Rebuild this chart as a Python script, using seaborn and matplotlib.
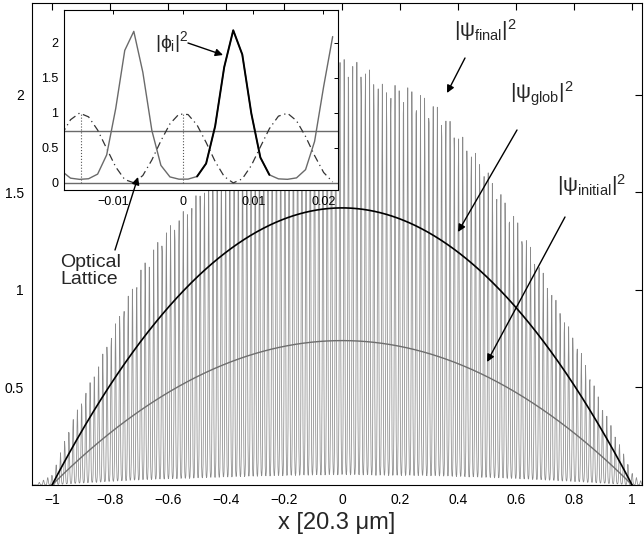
import numpy as np
import pandas as pd
import matplotlib
matplotlib.use("Agg")
import matplotlib.pyplot as plt
import seaborn as sns

# ---- values ----
lattice_period = 0.0146          # spacing of lattice sites (x units)
sample_step = 0.00129            # grid spacing of the simulation samples
site_width = 0.0019              # gaussian width of one site
site_floor = 0.023               # relative density between sites
glob_peak = 1.42                 # |psi_glob|^2 at centre
initial_peak = 0.74              # |psi_initial|^2 at centre
cloud_radius = 1.0               # Thomas-Fermi radius
# envelope of |psi_final|^2 (peak heights of the sites)
env_x = [-1.06, -1.0, -0.93, -0.845, -0.766, -0.686, -0.617, -0.524, -0.4, -0.3,
         -0.2, -0.1, 0.0, 0.072, 0.121, 0.141, 0.19, 0.234, 0.279, 0.338, 0.407,
         0.476, 0.545, 0.614, 0.683, 0.752, 0.821, 0.89, 0.959, 1.003, 1.05]
env_h = [0.0, 0.05, 0.33, 0.60, 0.88, 1.13, 1.29, 1.44, 1.70, 1.88,
         2.02, 2.12, 2.19, 2.16, 2.09, 2.05, 2.05, 2.04, 2.00, 1.93, 1.80,
         1.67, 1.50, 1.33, 1.12, 0.90, 0.69, 0.43, 0.20, 0.05, 0.0]
main_xticks = [-1, -0.8, -0.6, -0.4, -0.2, 0, 0.2, 0.4, 0.6, 0.8, 1]
main_xticklabels = ["\u22121", "\u22120.8", "\u22120.6", "\u22120.4", "\u22120.2", "0",
                    "0.2", "0.4", "0.6", "0.8", "1"]
main_yticks = [0.5, 1, 1.5, 2]
main_yticklabels = ["0.5", "1", "1.5", "2"]
inset_xticks = [-0.01, 0, 0.01, 0.02]
inset_xticklabels = ["\u22120.01", "0", "0.01", "0.02"]
inset_yticks = [0, 0.5, 1, 1.5, 2]
inset_yticklabels = ["0", "0.5", "1", "1.5", "2"]

sns.set_theme(style="white")
plt.rcParams["font.family"] = ["Liberation Sans", "DejaVu Sans"]
plt.rcParams["mathtext.fontset"] = "custom"
plt.rcParams["mathtext.rm"] = "Liberation Sans"
plt.rcParams["mathtext.it"] = "Liberation Sans"
plt.rcParams["mathtext.sf"] = "Liberation Sans"
plt.rcParams["mathtext.bf"] = "Liberation Sans:bold"

# ---- build curves ----
x = np.arange(-1.07, 1.04, sample_step)
site_idx = np.floor(x / lattice_period)
site_c = (site_idx + 0.5) * lattice_period
d = x - site_c
site_h = np.interp(site_c, env_x, env_h)
shape = site_floor + (1 - site_floor) * np.exp(-d**2 / (2 * site_width**2))
final = site_h * shape

xs = np.linspace(-cloud_radius, cloud_radius, 801)
glob = glob_peak * (1 - (xs / cloud_radius) ** 2)
init = initial_peak * (1 - (xs / cloud_radius) ** 2)

df_final = pd.DataFrame({"x": x, "y": final})
df_glob = pd.DataFrame({"x": xs, "y": glob})
df_init = pd.DataFrame({"x": xs, "y": init})

fig = plt.figure(figsize=(6.44, 5.44), dpi=100)
ax = fig.add_axes([32/644, 1-485/544, 610/644, 482/544])

sns.lineplot(data=df_final, x="x", y="y", ax=ax, color="#8a8a8a", lw=0.55,
             estimator=None, sort=False)
sns.lineplot(data=df_init, x="x", y="y", ax=ax, color="#6e6e6e", lw=1.0,
             estimator=None, sort=False)
sns.lineplot(data=df_glob, x="x", y="y", ax=ax, color="black", lw=1.2,
             estimator=None, sort=False)

ax.set_xlim(-1.069, 1.034)
ax.set_ylim(0, 2.47)
ax.set_xticks(main_xticks)
ax.set_xticklabels(main_xticklabels)
ax.set_yticks(main_yticks)
ax.set_yticklabels(main_yticklabels)
ax.tick_params(direction="in", length=5, width=0.8, top=True, right=True,
               labelsize=10, colors="black", pad=6)
ax.set_xlabel("x [20.3 \u03bcm]", fontsize=17, labelpad=3)
ax.set_ylabel("")
for s in ax.spines.values():
    s.set_color("black")
    s.set_linewidth(0.8)

# ---- inset ----
ins = fig.add_axes([64/644, 1-190/544, 274/644, 180/544])
ins.set_facecolor("white")
m = (x > -0.0175) & (x < 0.0226)
xi = x[m]
df_ifinal = pd.DataFrame({"x": xi, "y": final[m]})
lat = np.cos(np.pi * xi / lattice_period) ** 2
df_lat = pd.DataFrame({"x": xi, "y": lat})
c_site = 0.5 * lattice_period
mp = np.abs(xi - c_site) < 0.0056
phi = np.interp(c_site, env_x, env_h) * (site_floor + (1 - site_floor) *
                                         np.exp(-(xi[mp] - c_site)**2 / (2 * site_width**2)))
df_phi = pd.DataFrame({"x": xi[mp], "y": phi})

ins.axhline(initial_peak, color="#6a6a6a", lw=1.0)
ins.axhline(0, color="#6a6a6a", lw=1.0)
for xv in [-lattice_period, 0.0]:
    ins.plot([xv, xv], [0, 1], ls=":", color="#555555", lw=0.8)
sns.lineplot(data=df_lat, x="x", y="y", ax=ins, color="#333333", lw=0.9,
             estimator=None, sort=False, dashes=False)
ins.lines[-1].set_dashes([6, 3, 1, 3])
sns.lineplot(data=df_ifinal, x="x", y="y", ax=ins, color="#6a6a6a", lw=1.0,
             estimator=None, sort=False)
sns.lineplot(data=df_phi, x="x", y="y", ax=ins, color="black", lw=1.4,
             estimator=None, sort=False)
ins.set_xlim(-0.0170, 0.0221)
ins.set_ylim(-0.1, 2.47)
ins.set_xticks(inset_xticks)
ins.set_xticklabels(inset_xticklabels)
ins.set_yticks(inset_yticks)
ins.set_yticklabels(inset_yticklabels)
ins.tick_params(direction="in", length=3, width=0.7, top=True, right=True,
                labelsize=9, colors="black", pad=4)
ins.set_xlabel("")
ins.set_ylabel("")
for s in ins.spines.values():
    s.set_color("black")
    s.set_linewidth(0.8)

# ---- annotations (figure pixel positions) ----
W, H = 644, 544
def fp(px, py):
    return (px / W, 1 - py / H)

arrow = dict(arrowstyle="-|>", color="black", lw=1.0, mutation_scale=11,
             shrinkA=0, shrinkB=0)
fig.text(*fp(485, 30), r"$|\psi_{\mathrm{final}}|^2$", fontsize=15, ha="center", va="center")
fig.text(*fp(542, 94), r"$|\psi_{\mathrm{glob}}|^2$", fontsize=15, ha="center", va="center")
fig.text(*fp(592, 185), r"$|\psi_{\mathrm{initial}}|^2$", fontsize=15, ha="center", va="center")
fig.text(*fp(60, 271), "Optical\nLattice", fontsize=14, ha="left", va="center",
         linespacing=1.0)
fig.text(*fp(172, 42), r"$|\phi_{\mathrm{i}}|^2$", fontsize=14, ha="center", va="center")

for tail, head in [((465, 58), (447, 93)), ((517, 130), (458, 232)),
                   ((565, 217), (487, 362)), ((115, 250), (138, 177)),
                   ((188, 43), (223, 55))]:
    ins.annotate("", xy=fp(*head), xytext=fp(*tail), xycoords="figure fraction",
                 textcoords="figure fraction", arrowprops=arrow,
                 annotation_clip=False)

fig.savefig("out.png", dpi=100)
